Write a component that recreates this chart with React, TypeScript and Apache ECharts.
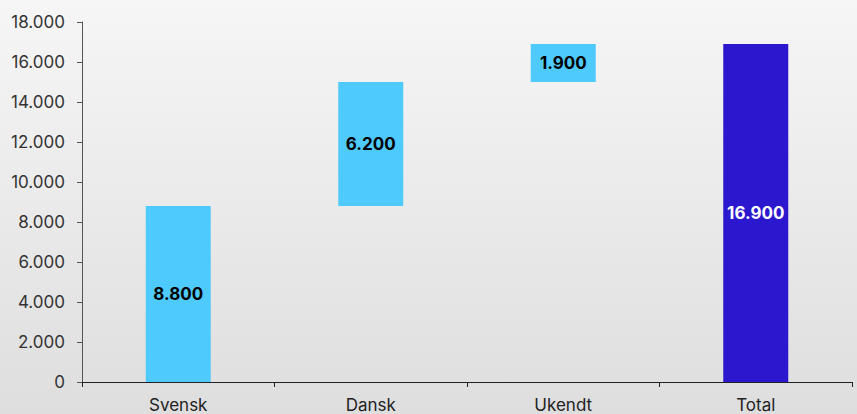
import React, { useEffect, useRef } from "react";
import * as echarts from "echarts";

const categories = ["Svensk", "Dansk", "Ukendt", "Total"];
const baseValues = [0, 8800, 15000, 0];
const barValues = [8800, 6200, 1900, 16900];
const isTotal = [false, false, false, true];
const yTicks = { min: 0, max: 18000, interval: 2000 };

const fmt = (v: number) => String(v).replace(/\B(?=(\d{3})+(?!\d))/g, ".");
const FONT = "Inter, Liberation Sans, Arial, sans-serif";

export default function App() {
  const ref = useRef<HTMLDivElement>(null);
  useEffect(() => {
    document.body.style.margin = "0";
    const chart = echarts.init(ref.current!, null, { renderer: "svg" });
    chart.setOption({
      animation: false,
      backgroundColor: {
        type: "linear",
        x: 0,
        y: 0,
        x2: 0,
        y2: 1,
        colorStops: [
          { offset: 0, color: "#f6f6f6" },
          { offset: 1, color: "#dedede" },
        ],
      },
      textStyle: { fontFamily: FONT },
      grid: { left: 82, right: 5, top: 22, bottom: 32 },
      xAxis: {
        type: "category",
        data: categories,
        axisLine: { show: true, lineStyle: { color: "#222", width: 1 } },
        axisTick: { show: true, alignWithLabel: false, length: 5, inside: false, lineStyle: { color: "#222" } },
        axisLabel: { color: "#222", fontSize: 17, margin: 14, fontFamily: FONT },
      },
      yAxis: {
        type: "value",
        min: yTicks.min,
        max: yTicks.max,
        interval: yTicks.interval,
        splitLine: { show: false },
        axisLine: { show: true, lineStyle: { color: "#555", width: 1 } },
        axisTick: { show: true, length: 5, lineStyle: { color: "#555" } },
        axisLabel: { color: "#333", fontSize: 17, margin: 17, fontFamily: FONT, formatter: (v: number) => fmt(v) },
      },
      series: [
        {
          type: "bar",
          stack: "w",
          data: baseValues,
          barWidth: 65,
          itemStyle: { color: "transparent" },
          silent: true,
        },
        {
          type: "bar",
          stack: "w",
          barWidth: 65,
          data: barValues.map((v, i) => ({
            value: v,
            itemStyle: { color: isTotal[i] ? "#2b18ce" : "#4fcafc" },
            label: {
              show: true,
              position: "inside",
              formatter: fmt(v),
              color: isTotal[i] ? "#ffffff" : "#000000",
              fontWeight: "bold",
              fontSize: 17,
              fontFamily: FONT,
            },
          })),
        },
      ],
    });
    return () => chart.dispose();
  }, []);
  return <div ref={ref} style={{ width: 857, height: 414 }} />;
}
